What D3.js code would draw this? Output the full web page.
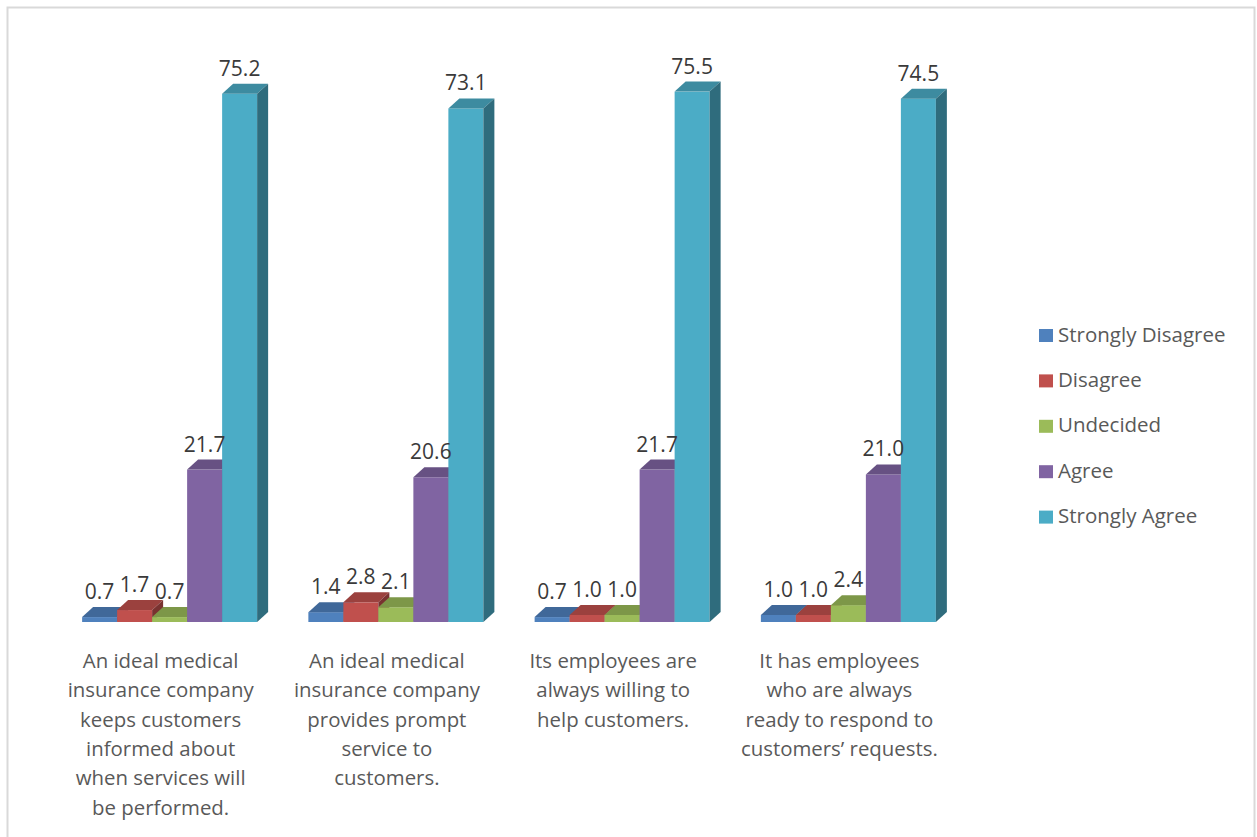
<!DOCTYPE html>
<html>
<head>
<meta charset="utf-8">
<script src="https://cdn.jsdelivr.net/npm/d3@7"></script>
<style>
  html, body { margin: 0; padding: 0; background: #fff; }
  svg { display: block; font-family: "Open Sans", "Liberation Sans", sans-serif; }
</style>
</head>
<body>
<svg id="chart" width="1257" height="837"></svg>
<script>
// Survey statements (one group of columns per statement), wrapped as printed
const categoryLines = [
  ["An ideal medical", "insurance company", "keeps customers", "informed about", "when services will", "be performed."],
  ["An ideal medical", "insurance company", "provides prompt", "service to", "customers."],
  ["Its employees are", "always willing to", "help customers."],
  ["It has employees", "who are always", "ready to respond to", "customers’ requests."]
];
const categories = categoryLines.map(l => l.join(" "));

// Response scale
const seriesNames = ["Strongly Disagree", "Disagree", "Undecided", "Agree", "Strongly Agree"];
const seriesColors = ["#4F81BD", "#C0504D", "#9BBB59", "#8064A2", "#4BACC6"];

// Percentages per response, one value per statement
const stronglyDisagree = [0.7, 1.4, 0.7, 1.0];
const disagree         = [1.7, 2.8, 1.0, 1.0];
const undecided        = [0.7, 2.1, 1.0, 2.4];
const agree            = [21.7, 20.6, 21.7, 21.0];
const stronglyAgree    = [75.2, 73.1, 75.5, 74.5];
const seriesValues = [stronglyDisagree, disagree, undecided, agree, stronglyAgree];

const svg = d3.select("#chart");

// Chart area frame
svg.append("rect")
  .attr("x", 7.5).attr("y", 7.5)
  .attr("width", 1247).attr("height", 860)
  .attr("fill", "#fff")
  .attr("stroke", "#d9d9d9").attr("stroke-width", 2);

const baseY = 622;
const y = d3.scaleLinear().domain([0, 80]).range([baseY, 60]);
const x0 = d3.scaleBand().domain(categories).range([56.5, 961.5]).padding(0);
const x1 = d3.scaleBand().domain(seriesNames).range([0, x0.bandwidth()])
  .paddingInner(0).paddingOuter(0.732);

// Oblique depth of the 3D columns
const dx = 11, dy = 10;
const fmt = d3.format(".1f");

const bars = [];
categories.forEach((c, ci) => {
  seriesNames.forEach((s, si) => {
    bars.push({ cat: c, ci, series: s, si, value: seriesValues[si][ci], color: seriesColors[si] });
  });
});

const g = svg.append("g");
const barG = g.selectAll("g.bar").data(bars).join("g").attr("class", "bar");

barG.each(function(d) {
  const el = d3.select(this);
  const xl = x0(d.cat) + x1(d.series);
  const w = x1.bandwidth();
  const xr = xl + w;
  const yt = y(d.value);
  const base = d3.color(d.color);
  // front face
  el.append("rect")
    .attr("x", xl).attr("y", yt)
    .attr("width", w).attr("height", baseY - yt)
    .attr("fill", d.color);
  // top face
  el.append("path")
    .attr("d", `M${xl},${yt} L${xl + dx},${yt - dy} L${xr + dx},${yt - dy} L${xr},${yt} Z`)
    .attr("fill", base.darker(0.6).formatHex());
  // right side face
  el.append("path")
    .attr("d", `M${xr},${yt} L${xr + dx},${yt - dy} L${xr + dx},${baseY - dy} L${xr},${baseY} Z`)
    .attr("fill", base.darker(1.3).formatHex());
});

// Value labels above each column
g.selectAll("text.val").data(bars).join("text")
  .attr("class", "val")
  .attr("x", d => x0(d.cat) + x1(d.series) + x1.bandwidth() / 2)
  .attr("y", d => y(d.value) - dy - 8)
  .attr("text-anchor", "middle")
  .attr("font-size", 21)
  .attr("fill", "#3a3a3a")
  .text(d => fmt(d.value));

// Category labels under each group
const catG = svg.selectAll("text.cat").data(categories).join("text")
  .attr("class", "cat")
  .attr("text-anchor", "middle")
  .attr("font-size", 20.4)
  .attr("fill", "#595959");
catG.each(function(c, i) {
  const cx = x0(c) + x0.bandwidth() / 2 - 9;
  d3.select(this).selectAll("tspan").data(categoryLines[i]).join("tspan")
    .attr("x", cx)
    .attr("y", (l, j) => 668 + j * 29.3)
    .text(l => l);
});

// Legend
const legend = svg.append("g").selectAll("g").data(seriesNames).join("g")
  .attr("transform", (d, i) => `translate(1039, ${329 + i * 45.4})`);
legend.append("rect")
  .attr("width", 14).attr("height", 13)
  .attr("fill", (d, i) => seriesColors[i]);
legend.append("text")
  .attr("x", 19).attr("y", 12.5)
  .attr("font-size", 20.5)
  .attr("fill", "#595959")
  .text(d => d);
</script>
</body>
</html>
